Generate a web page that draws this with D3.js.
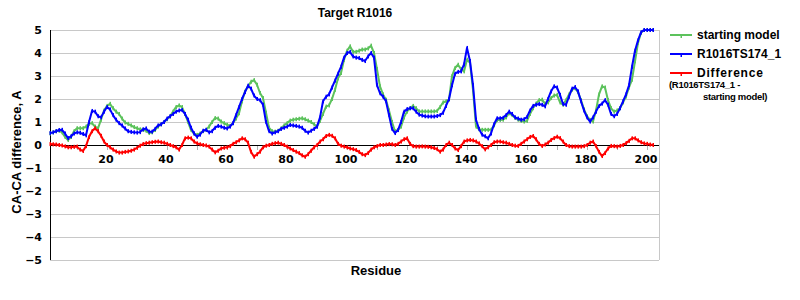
<!DOCTYPE html>
<html>
<head>
<meta charset="utf-8">
<script src="https://cdn.jsdelivr.net/npm/d3@7"></script>
<style>
  body { margin: 0; background: #fff; }
  text { font-family: "Liberation Sans", Arial, sans-serif; }
  .tick-label { font-family: "DejaVu Sans", sans-serif; font-weight: bold; font-size: 11px; }
</style>
</head>
<body>
<div id="chart"></div>
<script>
// Residue numbers 1..202
const residues = d3.range(1, 203);

// CA-CA distance of the starting model
const startingModel = [
  0.5, 0.55, 0.6, 0.62, 0.55, 0.35, 0.22, 0.35, 0.6, 0.73,
  0.73, 0.73, 0.8, 0.92, 0.95, 0.8, 0.72, 1.1, 1.5, 1.7,
  1.79, 1.6, 1.45, 1.35, 1.15, 0.98, 0.92, 0.85, 0.78, 0.73,
  0.68, 0.66, 0.62, 0.52, 0.55, 0.65, 0.8, 0.9, 1.0, 1.12,
  1.24, 1.45, 1.65, 1.72, 1.65, 1.35, 1.0, 0.65, 0.5, 0.44,
  0.5, 0.6, 0.66, 0.8, 1.0, 1.17, 1.15, 1.02, 0.95, 0.88,
  0.83, 0.95, 1.15, 1.38, 1.9, 2.33, 2.55, 2.75, 2.82, 2.62,
  2.26, 2.04, 1.4, 0.75, 0.6, 0.58, 0.62, 0.72, 0.85, 0.95,
  1.06, 1.1, 1.12, 1.14, 1.16, 1.12, 1.06, 1.0, 0.9, 0.8,
  1.05, 1.35, 1.67, 1.72, 2.0, 2.4, 2.9, 3.13, 3.7, 4.1,
  4.29, 4.05, 4.05, 4.1, 4.15, 4.15, 4.2, 4.32, 4.0, 3.3,
  2.55, 2.2, 1.97, 1.5, 1.0, 0.6, 0.65, 0.8, 1.2, 1.45,
  1.6, 1.7, 1.6, 1.46, 1.46, 1.46, 1.46, 1.46, 1.46, 1.48,
  1.65, 1.85, 1.9, 1.97, 3.0, 3.35, 3.49, 3.3, 3.2, 3.71,
  3.57, 2.4, 0.8, 0.68, 0.66, 0.66, 0.66, 0.66, 0.85, 1.09,
  1.09, 1.1, 1.2, 1.38, 1.3, 1.18, 1.1, 1.05, 1.02, 1.05,
  1.35, 1.6, 1.8, 1.95, 1.97, 1.8, 1.85, 2.04, 2.15, 2.18,
  1.85, 1.75, 1.95, 2.2, 2.4, 2.47, 2.3, 1.95, 1.55, 1.25,
  1.09, 1.02, 1.5, 2.2, 2.55, 2.5, 1.95, 1.6, 1.45, 1.5,
  1.6, 1.85, 2.11, 2.5, 2.84, 3.64, 4.44, 4.88, 5.0, 5.0,
  5.0, 5.0
];

// CA-CA distance of R1016TS174_1
const modelTS174 = [
  0.52, 0.55, 0.6, 0.65, 0.66, 0.5, 0.3, 0.38, 0.5, 0.55,
  0.53, 0.48, 0.42, 1.0, 1.48, 1.45, 1.25, 1.2, 1.45, 1.65,
  1.55, 1.3, 1.1, 0.95, 0.85, 0.72, 0.6, 0.57, 0.55, 0.54,
  0.56, 0.68, 0.72, 0.58, 0.58, 0.7, 0.85, 0.9, 1.0, 1.15,
  1.25, 1.35, 1.45, 1.5, 1.52, 1.35, 1.1, 0.75, 0.5, 0.36,
  0.45, 0.62, 0.66, 0.55, 0.6, 0.75, 0.83, 0.8, 0.75, 0.72,
  0.8, 0.95, 1.3, 1.65, 2.0, 2.3, 2.58, 2.45, 2.15, 2.0,
  1.95, 1.75, 1.0, 0.6, 0.5, 0.55, 0.6, 0.7, 0.75, 0.8,
  0.87, 0.85, 0.83, 0.8, 0.75, 0.62, 0.54, 0.62, 0.7, 0.8,
  1.2, 1.9, 2.1, 2.2, 2.5, 2.8, 3.1, 3.4, 3.8, 4.0,
  4.05, 3.85, 3.8, 3.78, 3.7, 3.65, 3.85, 4.0, 3.8, 2.6,
  2.25, 2.1, 1.9, 1.3, 0.7, 0.52, 0.65, 1.0, 1.45, 1.56,
  1.6, 1.6, 1.45, 1.32, 1.28, 1.25, 1.24, 1.24, 1.24, 1.26,
  1.3, 1.4, 1.7, 2.0, 2.6, 3.1, 3.18, 3.2, 3.5, 4.22,
  3.65, 2.6, 1.1, 0.7, 0.45, 0.38, 0.29, 0.5, 0.9, 1.16,
  1.16, 1.18, 1.3, 1.45, 1.35, 1.2, 1.15, 1.1, 1.12, 1.22,
  1.5, 1.7, 1.75, 1.78, 1.75, 1.68, 2.0, 2.33, 2.55, 2.5,
  2.18, 1.78, 1.75, 2.1, 2.45, 2.52, 2.33, 1.9, 1.5, 1.2,
  1.02, 1.2, 1.45, 1.7, 1.8, 1.95, 1.75, 1.35, 1.25, 1.35,
  1.6, 1.9, 2.2, 2.6, 3.4, 4.1, 4.55, 4.9, 5.0, 5.0,
  5.0, 5.0
];

// Difference (R1016TS174_1 - starting model)
const difference = [
  0.04, 0.03, 0.02, 0.0, -0.02, -0.06, -0.1, -0.1, -0.08, -0.07,
  -0.2, -0.26, -0.05, 0.35, 0.6, 0.73, 0.6, 0.4, 0.15, 0.0,
  -0.1, -0.2, -0.28, -0.33, -0.33, -0.3, -0.28, -0.25, -0.2, -0.12,
  -0.03, 0.04, 0.08, 0.1, 0.12, 0.14, 0.15, 0.12, 0.1, 0.05,
  0.0, -0.05, -0.1, -0.2, 0.0, 0.29, 0.32, 0.29, 0.15, 0.07,
  0.03, 0.0, -0.02, -0.07, -0.2, -0.32, -0.25, -0.15, -0.12, -0.1,
  -0.05, 0.05, 0.12, 0.2, 0.29, 0.25, 0.1, -0.3, -0.51, -0.4,
  -0.29, -0.1, -0.03, 0.0, 0.05, 0.08, 0.1, 0.05, 0.0, -0.07,
  -0.15, -0.22, -0.29, -0.35, -0.45, -0.51, -0.4, -0.25, -0.1, 0.0,
  0.15, 0.25, 0.39, 0.44, 0.4, 0.29, 0.05, -0.03, -0.07, -0.1,
  -0.15, -0.18, -0.22, -0.3, -0.4, -0.44, -0.35, -0.2, -0.1, -0.05,
  0.0, 0.0, 0.02, 0.04, 0.03, 0.0, 0.05, 0.15, 0.25, 0.29,
  0.05, -0.05, -0.07, -0.07, -0.06, -0.07, -0.08, -0.1, -0.13, -0.18,
  -0.29, -0.2, 0.0, 0.1, 0.0, -0.15, -0.22, -0.05, 0.15, 0.2,
  0.22, 0.2, 0.15, 0.07, -0.05, -0.19, -0.1, 0.0, 0.12, 0.15,
  0.15, 0.12, 0.1, 0.05, 0.0, -0.03, -0.04, 0.05, 0.15, 0.25,
  0.35, 0.39, 0.25, 0.05, -0.04, 0.02, 0.1, 0.22, 0.3, 0.36,
  0.3, 0.15, 0.0, -0.05, -0.07, -0.07, -0.07, -0.07, -0.05, 0.0,
  0.1, 0.15, -0.05, -0.3, -0.48, -0.35, -0.15, -0.04, -0.05, -0.07,
  -0.04, 0.0, 0.08, 0.18, 0.29, 0.29, 0.2, 0.12, 0.07, 0.05,
  0.02, 0.0
];

const xTickValues = d3.range(10, 201, 10);
const xLabelValues = d3.range(20, 201, 20);
const yTickValues = d3.range(-5, 6, 1);

const seriesNames = ["starting model", "R1016TS174_1", "Difference"];
const seriesColors = ["#5cc25c", "#0000ff", "#ff0000"];

const width = 800, height = 300;
const plot = { left: 50, right: 659, top: 30, bottom: 260 };

const svg = d3.select("#chart").append("svg")
  .attr("width", width)
  .attr("height", height);

const x = d3.scaleLinear().domain([1, 204]).range([plot.left, plot.right]);
const y = d3.scaleLinear().domain([-5, 5]).range([plot.bottom, plot.top]);

// horizontal grid
svg.append("g")
  .selectAll("line")
  .data(yTickValues.filter(v => v !== 0))
  .join("line")
  .attr("x1", plot.left).attr("x2", plot.right)
  .attr("y1", d => Math.round(y(d)) + 0.5).attr("y2", d => Math.round(y(d)) + 0.5)
  .attr("stroke", "#c8c8c8");

// right border
svg.append("line")
  .attr("x1", plot.right + 0.5).attr("x2", plot.right + 0.5)
  .attr("y1", plot.top).attr("y2", plot.bottom)
  .attr("stroke", "#c8c8c8");

// x ticks (below the zero line)
svg.append("g")
  .selectAll("line")
  .data(xTickValues)
  .join("line")
  .attr("x1", d => Math.round(x(d)) + 0.5).attr("x2", d => Math.round(x(d)) + 0.5)
  .attr("y1", y(0)).attr("y2", y(0) + 5)
  .attr("stroke", "#b0b0b0");

// zero line and y axis line
svg.append("line")
  .attr("x1", plot.left).attr("x2", plot.right)
  .attr("y1", Math.round(y(0)) + 0.5).attr("y2", Math.round(y(0)) + 0.5)
  .attr("stroke", "#000");
svg.append("line")
  .attr("x1", plot.left + 0.5).attr("x2", plot.left + 0.5)
  .attr("y1", plot.top).attr("y2", plot.bottom)
  .attr("stroke", "#000");

// tick labels
svg.append("g")
  .selectAll("text")
  .data(yTickValues)
  .join("text")
  .attr("class", "tick-label")
  .attr("x", 42)
  .attr("y", d => y(d) + 4)
  .attr("text-anchor", "end")
  .text(d => d < 0 ? "\u2212" + Math.abs(d) : d);

svg.append("g")
  .selectAll("text")
  .data(xLabelValues)
  .join("text")
  .attr("class", "tick-label")
  .attr("x", d => x(d) - 1)
  .attr("y", y(0) + 18)
  .attr("text-anchor", "middle")
  .text(d => d);

// titles
svg.append("text")
  .attr("x", 355).attr("y", 17)
  .attr("text-anchor", "middle")
  .style("font-weight", "bold").style("font-size", "12px")
  .text("Target R1016");

svg.append("text")
  .attr("x", 376).attr("y", 275)
  .attr("text-anchor", "middle")
  .style("font-weight", "bold").style("font-size", "13px")
  .text("Residue");

svg.append("text")
  .attr("transform", "translate(21,152) rotate(-90)")
  .attr("text-anchor", "middle")
  .style("font-weight", "bold").style("font-size", "13px")
  .text("CA-CA difference, A");

// series
const allSeries = [startingModel, modelTS174, difference];
const line = d3.line()
  .x((d, i) => x(residues[i]))
  .y(d => y(d));

allSeries.forEach((values, k) => {
  const g = svg.append("g");
  g.append("path")
    .datum(values)
    .attr("fill", "none")
    .attr("stroke", seriesColors[k])
    .attr("stroke-width", 2)
    .attr("stroke-linejoin", "round")
    .attr("d", line);
  g.selectAll("rect")
    .data(values)
    .join("rect")
    .attr("x", (d, i) => x(residues[i]) - 0.5)
    .attr("y", d => y(d) - 2)
    .attr("width", 1.5)
    .attr("height", 4)
    .attr("fill", seriesColors[k]);
});

// legend
const legendY = [35, 54, 73];
const legend = svg.append("g");
seriesNames.forEach((name, k) => {
  legend.append("line")
    .attr("x1", 670).attr("x2", 692)
    .attr("y1", legendY[k]).attr("y2", legendY[k])
    .attr("stroke", seriesColors[k]).attr("stroke-width", 2);
  legend.append("rect")
    .attr("x", 680.5).attr("y", legendY[k] - 1)
    .attr("width", 1.5).attr("height", 4)
    .attr("fill", seriesColors[k]);
  legend.append("text")
    .attr("x", 697).attr("y", legendY[k] + 4)
    .style("font-weight", "bold")
    .style("font-size", "12px")
    .style("letter-spacing", k === 2 ? "0.8px" : "0px")
    .text(name);
});
legend.append("text")
  .attr("x", 669).attr("y", 88)
  .style("font-weight", "bold").style("font-size", "9.5px")
  .style("letter-spacing", "-0.3px")
  .text("(R1016TS174_1 -");
legend.append("text")
  .attr("x", 703).attr("y", 100)
  .style("font-weight", "bold").style("font-size", "9.5px")
  .style("letter-spacing", "-0.3px")
  .text("starting model)");
</script>
</body>
</html>
